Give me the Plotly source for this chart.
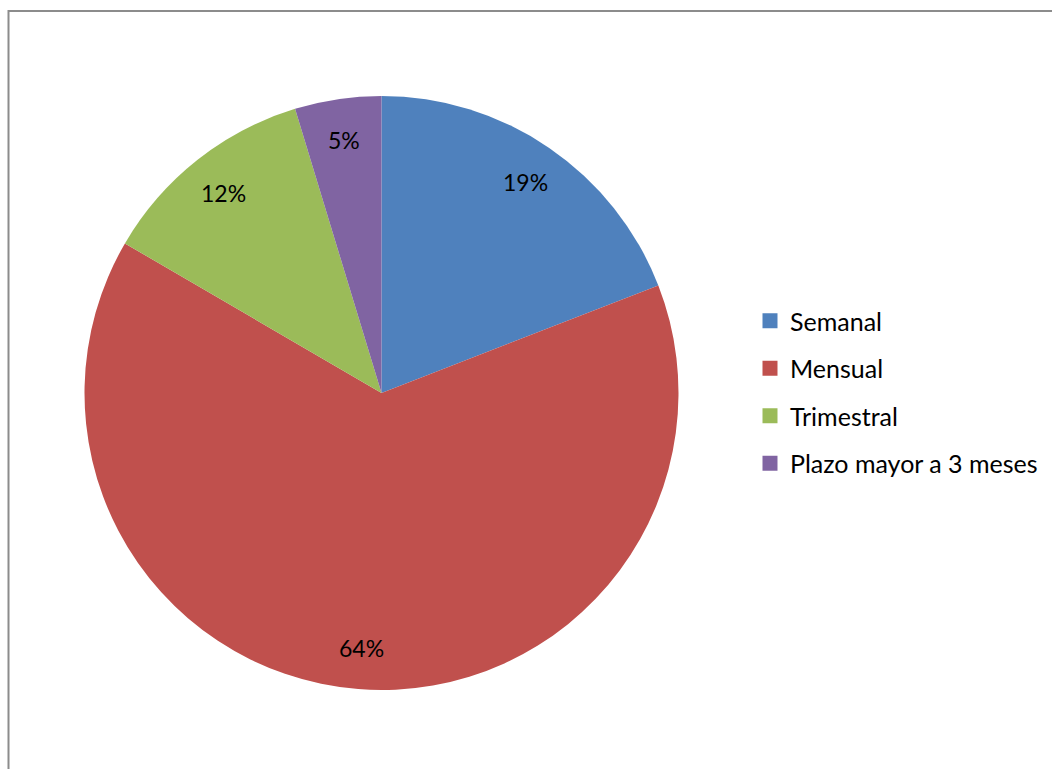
import math
import plotly.graph_objects as go

categories = ["Semanal", "Mensual", "Trimestral", "Plazo mayor a 3 meses"]
values = [19.1, 64.3, 11.9, 4.7]
colors = ["#4F81BD", "#C0504D", "#9BBB59", "#8064A2"]

W, H = 1052, 769
cx, cy, R = 381.5, 393, 297
FONT = "Lato"

fig = go.Figure()
fig.add_trace(go.Pie(
    labels=categories, values=values, sort=False, direction="clockwise", rotation=0,
    marker=dict(colors=colors, line=dict(width=0)), textinfo="none", hoverinfo="label+percent",
    showlegend=False,
    domain=dict(x=[(cx - R) / W, (cx + R) / W], y=[1 - (cy + R) / H, 1 - (cy - R) / H]),
))

# legend entries
for i, (c, col) in enumerate(zip(categories, colors)):
    fig.add_trace(go.Scatter(
        x=[None], y=[None], mode="markers", name=c, legendgroup=str(i),
        marker=dict(symbol="square", size=15, color=col), showlegend=True,
    ))

# percentage labels
total = sum(values)
cum = 0
annotations = []
for v in values:
    mid = (cum + v / 2) / total * 2 * math.pi
    cum += v
    r = 0.86 * R
    px = cx + r * math.sin(mid)
    py = cy - r * math.cos(mid)
    annotations.append(dict(
        x=px / W, y=1 - py / H, xref="paper", yref="paper", showarrow=False,
        xanchor="center", yanchor="middle",
        text=f"{round(v / total * 100)}%", font=dict(family=FONT, size=23, color="#000000"),
    ))

fig.update_layout(
    width=W, height=H,
    margin=dict(l=0, r=0, t=0, b=0),
    paper_bgcolor="white", plot_bgcolor="white",
    xaxis=dict(visible=False), yaxis=dict(visible=False),
    annotations=annotations,
    legend=dict(x=750 / W, y=1 - 298 / H, xanchor="left", yanchor="top",
                font=dict(family=FONT, size=25, color="#000000"),
                tracegroupgap=12, itemwidth=30, bgcolor="rgba(0,0,0,0)"),
    shapes=[
        dict(type="line", xref="paper", yref="paper", x0=8.5 / W, x1=1.0, y0=1 - 11 / H, y1=1 - 11 / H,
             line=dict(color="#8c8c8c", width=2)),
        dict(type="line", xref="paper", yref="paper", x0=8.5 / W, x1=8.5 / W, y0=0, y1=1 - 10 / H,
             line=dict(color="#8c8c8c", width=2)),
    ],
)

fig.write_html("out.html", config={"displayModeBar": False},
               post_script="document.body.style.margin='0';document.body.style.overflow='hidden';")
